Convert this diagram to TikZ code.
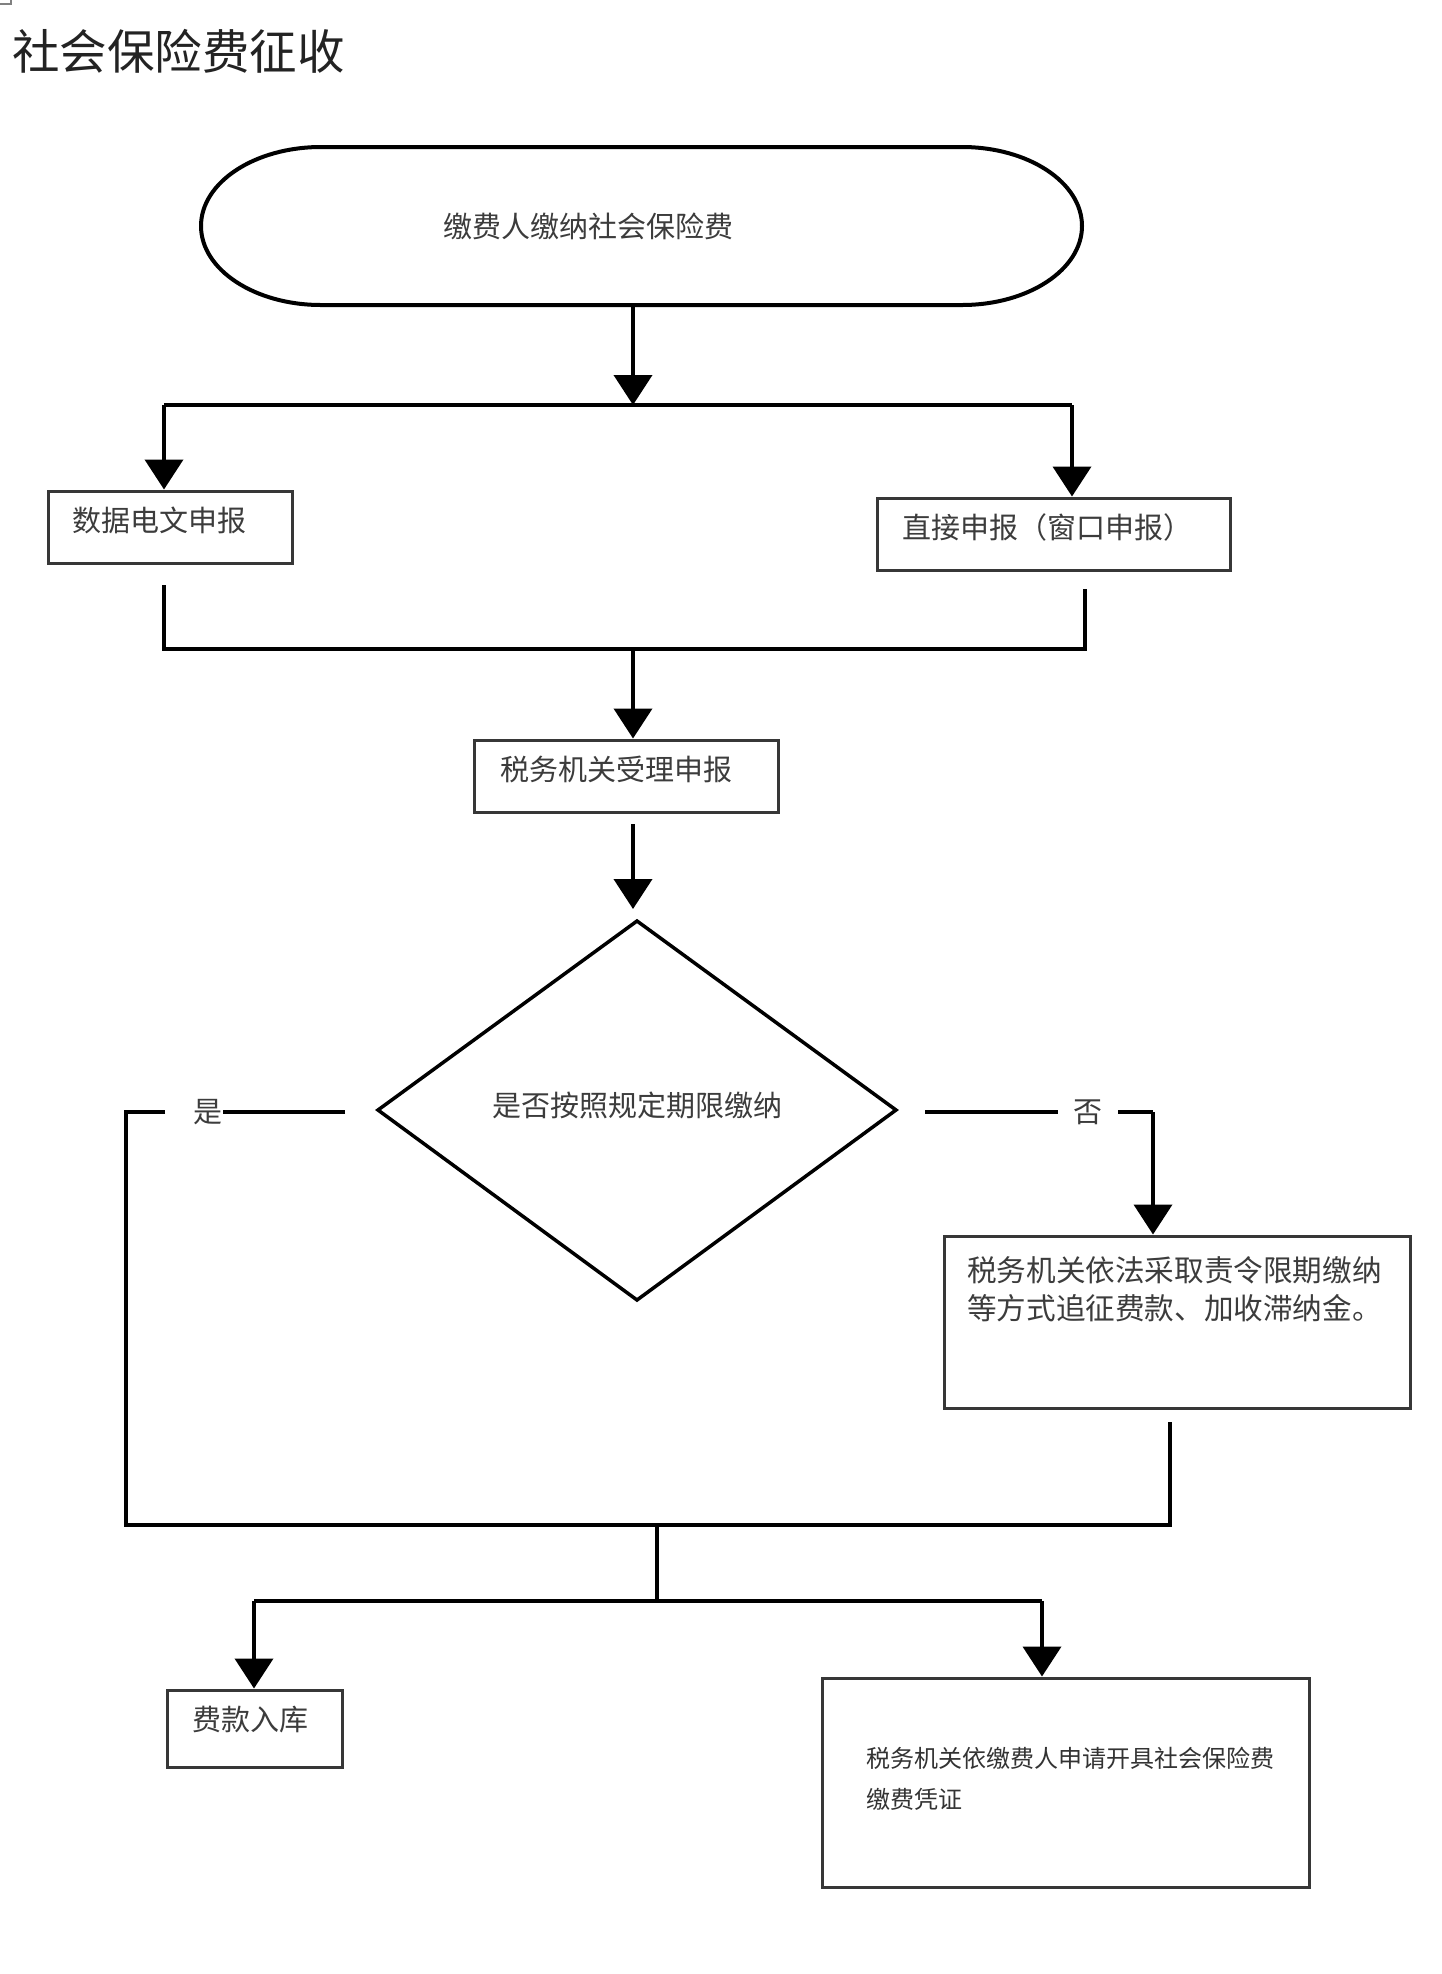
\documentclass[tikz,border=0pt]{standalone}
\usepackage{fontspec}
\newfontfamily\cjk{Noto Sans CJK SC}
\usetikzlibrary{arrows.meta}
\definecolor{txtgray}{RGB}{60,60,60}
\definecolor{titlegray}{RGB}{35,35,35}
\definecolor{boxgray}{RGB}{55,55,55}
\begin{document}
\begin{tikzpicture}[x=1pt,y=-1pt,
  conn/.style={line width=4pt, black},
  arr/.style={conn, -{Triangle[width=38pt,length=30pt]}},
  boxst/.style={draw=boxgray, line width=3pt, inner sep=0pt},
  txt/.style={font=\cjk\fontsize{29}{35}\selectfont, text=txtgray, inner sep=0pt}
]
\useasboundingbox[fill=white] (0,0) rectangle (1441,1974);
% small corner mark
\draw[line width=1.2pt, gray] (0,4) -- (11,4) -- (11,0);
% title
\node[anchor=west, font=\cjk\fontsize{47.5}{52}\selectfont, text=titlegray, inner sep=0pt] (title) at (12,51) {社会保险费征收};

% start terminal
\node[minimum width=881pt, minimum height=158pt, inner sep=0pt] (start) at (641.5,226) {};
\draw[line width=4pt] (321,147) -- (962,147) arc[start angle=-90,end angle=90,x radius=120,y radius=79]
  -- (321,305) arc[start angle=90,end angle=270,x radius=120,y radius=79] -- cycle;
\node[txt] (starttxt) at (588,226) {缴费人缴纳社会保险费};

% boxes
\node[boxst, minimum width=244pt, minimum height=72pt] (b1) at (170,527) {};
\node[txt, anchor=west] (b1t) at (72,520) {数据电文申报};
\node[boxst, minimum width=353pt, minimum height=72pt] (b2) at (1053.5,534) {};
\node[txt, anchor=west] (b2t) at (902,527) {直接申报（窗口申报）};
\node[boxst, minimum width=304pt, minimum height=72pt] (b3) at (626,776) {};
\node[txt, anchor=west] (b3t) at (500,769) {税务机关受理申报};
\node[boxst, minimum width=466pt, minimum height=172pt] (b4) at (1177,1322) {};
\node[txt, anchor=west, align=left, font=\cjk\fontsize{29.6}{38}\selectfont] (b4t) at (967,1289) {税务机关依法采取责令限期缴纳\\等方式追征费款、加收滞纳金。};
\node[boxst, minimum width=175pt, minimum height=77pt] (b5) at (254.5,1728.5) {};
\node[txt, anchor=west] (b5t) at (192,1720) {费款入库};
\node[boxst, minimum width=487pt, minimum height=209pt] (b6) at (1065.5,1782.5) {};
\node[txt, anchor=west, align=left, font=\cjk\fontsize{24}{41}\selectfont, text=black!80] (b6t) at (866,1778.5) {税务机关依缴费人申请开具社会保险费\\缴费凭证};

% diamond
\coordinate (dN) at (637,921);
\coordinate (dE) at (896,1110);
\coordinate (dS) at (637,1300);
\coordinate (dW) at (378,1110);
\draw[line width=3.5pt, line join=miter] (dN) -- (dE) -- (dS) -- (dW) -- cycle;
\node[txt] (dt) at (637,1105) {是否按照规定期限缴纳};

% coordinates
\coordinate (j1) at (633,405);
\coordinate (c1) at (164,405);
\coordinate (c2) at (1072,405);
\coordinate (m1) at (164,585);
\coordinate (m2) at (1085,589);
\coordinate (m3) at (164,649);
\coordinate (m4) at (1085,649);
\coordinate (j2) at (633,649);
\coordinate (a3) at (633,824);
\coordinate (a3e) at (633,909);
\coordinate (y1) at (345,1112);
\coordinate (y2) at (223,1112);
\coordinate (y3) at (165,1112);
\coordinate (y4) at (126,1112);
\coordinate (y5) at (126,1525);
\coordinate (m6) at (1170,1525);
\coordinate (m5) at (1170,1422);
\coordinate (n1) at (925,1112);
\coordinate (n2) at (1058,1112);
\coordinate (n3) at (1118,1112);
\coordinate (n4) at (1153,1112);
\coordinate (j3) at (657,1525);
\coordinate (j4) at (657,1601);
\coordinate (c5) at (254,1601);
\coordinate (c6) at (1042,1601);

% connectors
\draw[arr] (start.south -| j1) -- (j1);
\draw[conn] (c1) -- (c2);
\draw[arr] (c1) -- (c1 |- b1.north);
\draw[arr] (c2) -- (c2 |- b2.north);
\draw[conn] (m1) -- (m3) -- (m4) -- (m2);
\draw[arr] (j2) -- (j2 |- b3.north);
\draw[arr] (a3) -- (a3e);

\node[txt] (yes) at (208,1112) {是};
\draw[conn] (y1) -- (y2);
\draw[conn] (y3) -- (y4) -- (y5) -- (m6) -- (m5);

\node[txt] (no) at (1088,1112) {否};
\draw[conn] (n1) -- (n2);
\draw[conn] (n3) -- (n4);
\draw[arr] (n4) -- (n4 |- b4.north);

\draw[conn] (j3) -- (j4);
\draw[conn] (c5) -- (c6);
\draw[arr] (c5) -- (c5 |- b5.north);
\draw[arr] (c6) -- (c6 |- b6.north);
\end{tikzpicture}
\end{document}
